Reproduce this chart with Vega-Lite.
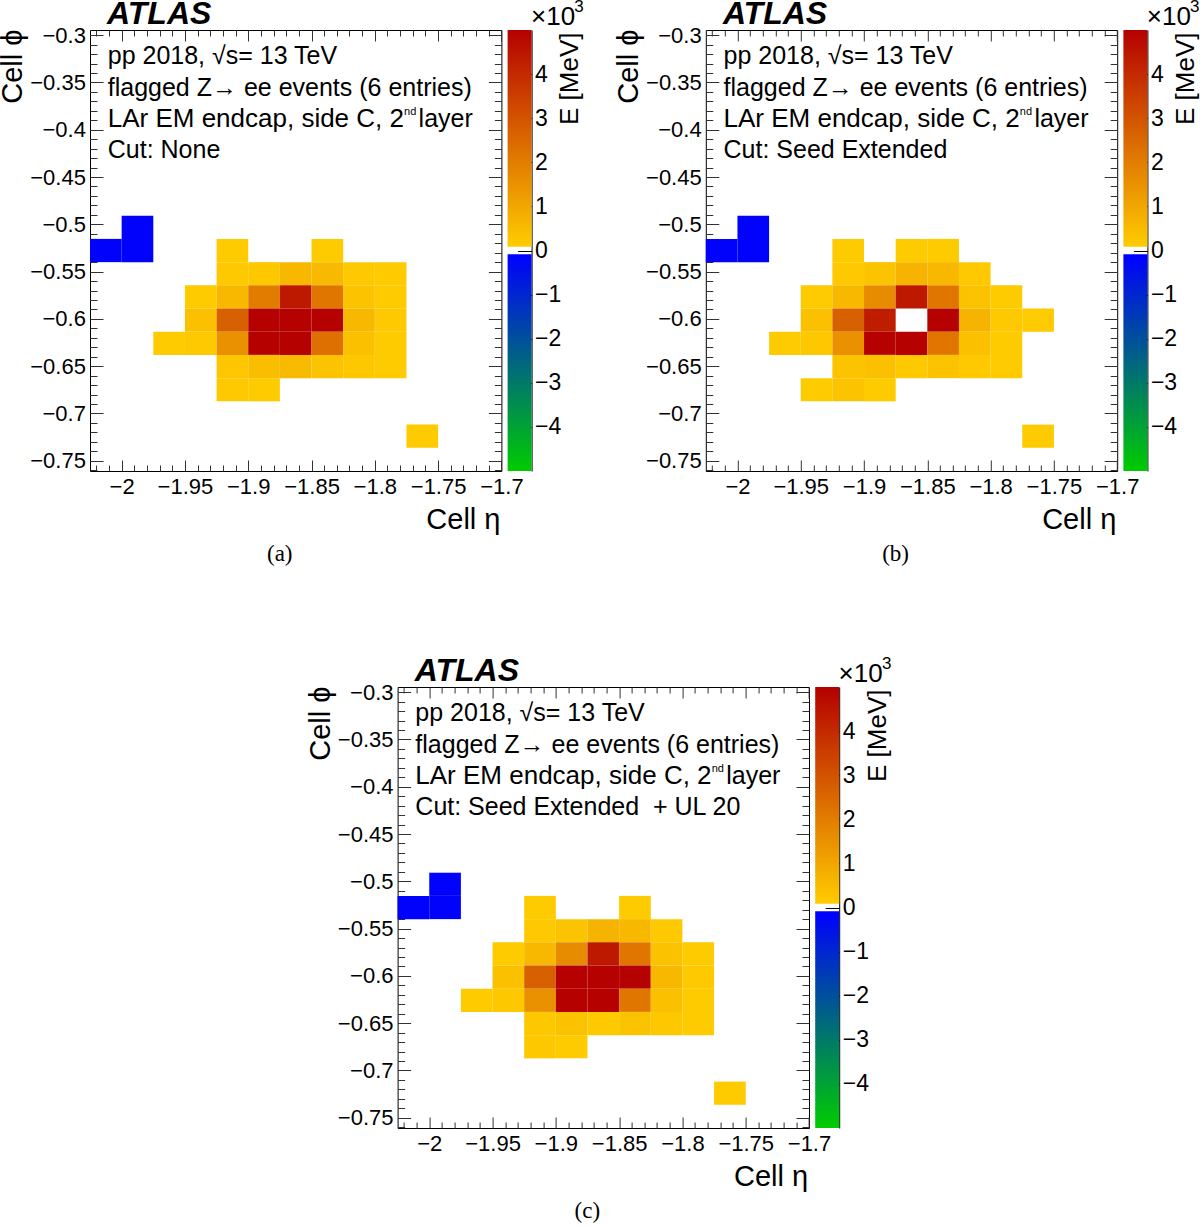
{
"$schema": "https://vega.github.io/schema/vega-lite/v6.json",
"background": "white",
"padding": {"left": -2, "top": -3, "right": 0, "bottom": 0},
"config": {
 "view": {"stroke": "black", "strokeWidth": 1},
 "axis": {"domain": false, "grid": false, "tickColor": "#333333", "tickWidth": 1, "labelFont": "Liberation Sans", "labelFontSize": 22, "labelColor": "black", "titleFont": "Liberation Sans", "titleFontWeight": "normal", "titleColor": "black", "labelFlush": false, "labelOverlap": false, "zindex": 2}
},
"datasets": {
 "cellsA": [
  {"eta0":-2.025,"eta1":-2,"phi0":-0.5154,"phi1":-0.54,"E":-60},
  {"eta0":-2,"eta1":-1.975,"phi0":-0.4909,"phi1":-0.5154,"E":-60},
  {"eta0":-2,"eta1":-1.975,"phi0":-0.5154,"phi1":-0.54,"E":-60},
  {"eta0":-1.925,"eta1":-1.9,"phi0":-0.5154,"phi1":-0.54,"E":60},
  {"eta0":-1.85,"eta1":-1.825,"phi0":-0.5154,"phi1":-0.54,"E":60},
  {"eta0":-1.925,"eta1":-1.9,"phi0":-0.54,"phi1":-0.5645,"E":80},
  {"eta0":-1.9,"eta1":-1.875,"phi0":-0.54,"phi1":-0.5645,"E":100},
  {"eta0":-1.875,"eta1":-1.85,"phi0":-0.54,"phi1":-0.5645,"E":480},
  {"eta0":-1.85,"eta1":-1.825,"phi0":-0.54,"phi1":-0.5645,"E":450},
  {"eta0":-1.825,"eta1":-1.8,"phi0":-0.54,"phi1":-0.5645,"E":80},
  {"eta0":-1.8,"eta1":-1.775,"phi0":-0.54,"phi1":-0.5645,"E":60},
  {"eta0":-1.95,"eta1":-1.925,"phi0":-0.5645,"phi1":-0.589,"E":60},
  {"eta0":-1.925,"eta1":-1.9,"phi0":-0.5645,"phi1":-0.589,"E":480},
  {"eta0":-1.9,"eta1":-1.875,"phi0":-0.5645,"phi1":-0.589,"E":1950},
  {"eta0":-1.875,"eta1":-1.85,"phi0":-0.5645,"phi1":-0.589,"E":4400},
  {"eta0":-1.85,"eta1":-1.825,"phi0":-0.5645,"phi1":-0.589,"E":2100},
  {"eta0":-1.825,"eta1":-1.8,"phi0":-0.5645,"phi1":-0.589,"E":220},
  {"eta0":-1.8,"eta1":-1.775,"phi0":-0.5645,"phi1":-0.589,"E":60},
  {"eta0":-1.95,"eta1":-1.925,"phi0":-0.589,"phi1":-0.6136,"E":300},
  {"eta0":-1.925,"eta1":-1.9,"phi0":-0.589,"phi1":-0.6136,"E":2650},
  {"eta0":-1.9,"eta1":-1.875,"phi0":-0.589,"phi1":-0.6136,"E":4950},
  {"eta0":-1.875,"eta1":-1.85,"phi0":-0.589,"phi1":-0.6136,"E":4950},
  {"eta0":-1.85,"eta1":-1.825,"phi0":-0.589,"phi1":-0.6136,"E":4950},
  {"eta0":-1.825,"eta1":-1.8,"phi0":-0.589,"phi1":-0.6136,"E":480},
  {"eta0":-1.8,"eta1":-1.775,"phi0":-0.589,"phi1":-0.6136,"E":80},
  {"eta0":-1.975,"eta1":-1.95,"phi0":-0.6136,"phi1":-0.6381,"E":60},
  {"eta0":-1.95,"eta1":-1.925,"phi0":-0.6136,"phi1":-0.6381,"E":80},
  {"eta0":-1.925,"eta1":-1.9,"phi0":-0.6136,"phi1":-0.6381,"E":1450},
  {"eta0":-1.9,"eta1":-1.875,"phi0":-0.6136,"phi1":-0.6381,"E":4950},
  {"eta0":-1.875,"eta1":-1.85,"phi0":-0.6136,"phi1":-0.6381,"E":4950},
  {"eta0":-1.85,"eta1":-1.825,"phi0":-0.6136,"phi1":-0.6381,"E":2250},
  {"eta0":-1.825,"eta1":-1.8,"phi0":-0.6136,"phi1":-0.6381,"E":300},
  {"eta0":-1.8,"eta1":-1.775,"phi0":-0.6136,"phi1":-0.6381,"E":60},
  {"eta0":-1.925,"eta1":-1.9,"phi0":-0.6381,"phi1":-0.6627,"E":150},
  {"eta0":-1.9,"eta1":-1.875,"phi0":-0.6381,"phi1":-0.6627,"E":350},
  {"eta0":-1.875,"eta1":-1.85,"phi0":-0.6381,"phi1":-0.6627,"E":450},
  {"eta0":-1.85,"eta1":-1.825,"phi0":-0.6381,"phi1":-0.6627,"E":220},
  {"eta0":-1.825,"eta1":-1.8,"phi0":-0.6381,"phi1":-0.6627,"E":100},
  {"eta0":-1.8,"eta1":-1.775,"phi0":-0.6381,"phi1":-0.6627,"E":60},
  {"eta0":-1.925,"eta1":-1.9,"phi0":-0.6627,"phi1":-0.6872,"E":80},
  {"eta0":-1.9,"eta1":-1.875,"phi0":-0.6627,"phi1":-0.6872,"E":60},
  {"eta0":-1.775,"eta1":-1.75,"phi0":-0.7118,"phi1":-0.7363,"E":60}
 ],
 "cellsB": [
  {"eta0":-2.025,"eta1":-2,"phi0":-0.5154,"phi1":-0.54,"E":-60},
  {"eta0":-2,"eta1":-1.975,"phi0":-0.4909,"phi1":-0.5154,"E":-60},
  {"eta0":-2,"eta1":-1.975,"phi0":-0.5154,"phi1":-0.54,"E":-60},
  {"eta0":-1.925,"eta1":-1.9,"phi0":-0.5154,"phi1":-0.54,"E":60},
  {"eta0":-1.875,"eta1":-1.85,"phi0":-0.5154,"phi1":-0.54,"E":60},
  {"eta0":-1.85,"eta1":-1.825,"phi0":-0.5154,"phi1":-0.54,"E":60},
  {"eta0":-1.925,"eta1":-1.9,"phi0":-0.54,"phi1":-0.5645,"E":80},
  {"eta0":-1.9,"eta1":-1.875,"phi0":-0.54,"phi1":-0.5645,"E":200},
  {"eta0":-1.875,"eta1":-1.85,"phi0":-0.54,"phi1":-0.5645,"E":590},
  {"eta0":-1.85,"eta1":-1.825,"phi0":-0.54,"phi1":-0.5645,"E":480},
  {"eta0":-1.825,"eta1":-1.8,"phi0":-0.54,"phi1":-0.5645,"E":80},
  {"eta0":-1.95,"eta1":-1.925,"phi0":-0.5645,"phi1":-0.589,"E":60},
  {"eta0":-1.925,"eta1":-1.9,"phi0":-0.5645,"phi1":-0.589,"E":480},
  {"eta0":-1.9,"eta1":-1.875,"phi0":-0.5645,"phi1":-0.589,"E":1600},
  {"eta0":-1.875,"eta1":-1.85,"phi0":-0.5645,"phi1":-0.589,"E":4400},
  {"eta0":-1.85,"eta1":-1.825,"phi0":-0.5645,"phi1":-0.589,"E":2100},
  {"eta0":-1.825,"eta1":-1.8,"phi0":-0.5645,"phi1":-0.589,"E":250},
  {"eta0":-1.8,"eta1":-1.775,"phi0":-0.5645,"phi1":-0.589,"E":60},
  {"eta0":-1.95,"eta1":-1.925,"phi0":-0.589,"phi1":-0.6136,"E":300},
  {"eta0":-1.925,"eta1":-1.9,"phi0":-0.589,"phi1":-0.6136,"E":2650},
  {"eta0":-1.9,"eta1":-1.875,"phi0":-0.589,"phi1":-0.6136,"E":4300},
  {"eta0":-1.85,"eta1":-1.825,"phi0":-0.589,"phi1":-0.6136,"E":4950},
  {"eta0":-1.825,"eta1":-1.8,"phi0":-0.589,"phi1":-0.6136,"E":590},
  {"eta0":-1.8,"eta1":-1.775,"phi0":-0.589,"phi1":-0.6136,"E":80},
  {"eta0":-1.775,"eta1":-1.75,"phi0":-0.589,"phi1":-0.6136,"E":60},
  {"eta0":-1.975,"eta1":-1.95,"phi0":-0.6136,"phi1":-0.6381,"E":60},
  {"eta0":-1.95,"eta1":-1.925,"phi0":-0.6136,"phi1":-0.6381,"E":100},
  {"eta0":-1.925,"eta1":-1.9,"phi0":-0.6136,"phi1":-0.6381,"E":1450},
  {"eta0":-1.9,"eta1":-1.875,"phi0":-0.6136,"phi1":-0.6381,"E":4950},
  {"eta0":-1.875,"eta1":-1.85,"phi0":-0.6136,"phi1":-0.6381,"E":4950},
  {"eta0":-1.85,"eta1":-1.825,"phi0":-0.6136,"phi1":-0.6381,"E":2100},
  {"eta0":-1.825,"eta1":-1.8,"phi0":-0.6136,"phi1":-0.6381,"E":300},
  {"eta0":-1.8,"eta1":-1.775,"phi0":-0.6136,"phi1":-0.6381,"E":60},
  {"eta0":-1.925,"eta1":-1.9,"phi0":-0.6381,"phi1":-0.6627,"E":200},
  {"eta0":-1.9,"eta1":-1.875,"phi0":-0.6381,"phi1":-0.6627,"E":300},
  {"eta0":-1.875,"eta1":-1.85,"phi0":-0.6381,"phi1":-0.6627,"E":80},
  {"eta0":-1.85,"eta1":-1.825,"phi0":-0.6381,"phi1":-0.6627,"E":250},
  {"eta0":-1.825,"eta1":-1.8,"phi0":-0.6381,"phi1":-0.6627,"E":80},
  {"eta0":-1.8,"eta1":-1.775,"phi0":-0.6381,"phi1":-0.6627,"E":60},
  {"eta0":-1.95,"eta1":-1.925,"phi0":-0.6627,"phi1":-0.6872,"E":60},
  {"eta0":-1.925,"eta1":-1.9,"phi0":-0.6627,"phi1":-0.6872,"E":200},
  {"eta0":-1.9,"eta1":-1.875,"phi0":-0.6627,"phi1":-0.6872,"E":60},
  {"eta0":-1.775,"eta1":-1.75,"phi0":-0.7118,"phi1":-0.7363,"E":60}
 ],
 "cellsC": [
  {"eta0":-2.025,"eta1":-2,"phi0":-0.5154,"phi1":-0.54,"E":-60},
  {"eta0":-2,"eta1":-1.975,"phi0":-0.4909,"phi1":-0.5154,"E":-60},
  {"eta0":-2,"eta1":-1.975,"phi0":-0.5154,"phi1":-0.54,"E":-60},
  {"eta0":-1.925,"eta1":-1.9,"phi0":-0.5154,"phi1":-0.54,"E":60},
  {"eta0":-1.85,"eta1":-1.825,"phi0":-0.5154,"phi1":-0.54,"E":60},
  {"eta0":-1.925,"eta1":-1.9,"phi0":-0.54,"phi1":-0.5645,"E":80},
  {"eta0":-1.9,"eta1":-1.875,"phi0":-0.54,"phi1":-0.5645,"E":200},
  {"eta0":-1.875,"eta1":-1.85,"phi0":-0.54,"phi1":-0.5645,"E":590},
  {"eta0":-1.85,"eta1":-1.825,"phi0":-0.54,"phi1":-0.5645,"E":480},
  {"eta0":-1.825,"eta1":-1.8,"phi0":-0.54,"phi1":-0.5645,"E":80},
  {"eta0":-1.95,"eta1":-1.925,"phi0":-0.5645,"phi1":-0.589,"E":60},
  {"eta0":-1.925,"eta1":-1.9,"phi0":-0.5645,"phi1":-0.589,"E":480},
  {"eta0":-1.9,"eta1":-1.875,"phi0":-0.5645,"phi1":-0.589,"E":1600},
  {"eta0":-1.875,"eta1":-1.85,"phi0":-0.5645,"phi1":-0.589,"E":4400},
  {"eta0":-1.85,"eta1":-1.825,"phi0":-0.5645,"phi1":-0.589,"E":2100},
  {"eta0":-1.825,"eta1":-1.8,"phi0":-0.5645,"phi1":-0.589,"E":250},
  {"eta0":-1.8,"eta1":-1.775,"phi0":-0.5645,"phi1":-0.589,"E":60},
  {"eta0":-1.95,"eta1":-1.925,"phi0":-0.589,"phi1":-0.6136,"E":300},
  {"eta0":-1.925,"eta1":-1.9,"phi0":-0.589,"phi1":-0.6136,"E":2650},
  {"eta0":-1.9,"eta1":-1.875,"phi0":-0.589,"phi1":-0.6136,"E":4950},
  {"eta0":-1.875,"eta1":-1.85,"phi0":-0.589,"phi1":-0.6136,"E":4950},
  {"eta0":-1.85,"eta1":-1.825,"phi0":-0.589,"phi1":-0.6136,"E":4950},
  {"eta0":-1.825,"eta1":-1.8,"phi0":-0.589,"phi1":-0.6136,"E":480},
  {"eta0":-1.8,"eta1":-1.775,"phi0":-0.589,"phi1":-0.6136,"E":80},
  {"eta0":-1.975,"eta1":-1.95,"phi0":-0.6136,"phi1":-0.6381,"E":60},
  {"eta0":-1.95,"eta1":-1.925,"phi0":-0.6136,"phi1":-0.6381,"E":100},
  {"eta0":-1.925,"eta1":-1.9,"phi0":-0.6136,"phi1":-0.6381,"E":1450},
  {"eta0":-1.9,"eta1":-1.875,"phi0":-0.6136,"phi1":-0.6381,"E":4950},
  {"eta0":-1.875,"eta1":-1.85,"phi0":-0.6136,"phi1":-0.6381,"E":4950},
  {"eta0":-1.85,"eta1":-1.825,"phi0":-0.6136,"phi1":-0.6381,"E":2100},
  {"eta0":-1.825,"eta1":-1.8,"phi0":-0.6136,"phi1":-0.6381,"E":300},
  {"eta0":-1.8,"eta1":-1.775,"phi0":-0.6136,"phi1":-0.6381,"E":60},
  {"eta0":-1.925,"eta1":-1.9,"phi0":-0.6381,"phi1":-0.6627,"E":100},
  {"eta0":-1.9,"eta1":-1.875,"phi0":-0.6381,"phi1":-0.6627,"E":250},
  {"eta0":-1.875,"eta1":-1.85,"phi0":-0.6381,"phi1":-0.6627,"E":80},
  {"eta0":-1.85,"eta1":-1.825,"phi0":-0.6381,"phi1":-0.6627,"E":250},
  {"eta0":-1.825,"eta1":-1.8,"phi0":-0.6381,"phi1":-0.6627,"E":100},
  {"eta0":-1.8,"eta1":-1.775,"phi0":-0.6381,"phi1":-0.6627,"E":60},
  {"eta0":-1.925,"eta1":-1.9,"phi0":-0.6627,"phi1":-0.6872,"E":100},
  {"eta0":-1.9,"eta1":-1.875,"phi0":-0.6627,"phi1":-0.6872,"E":60},
  {"eta0":-1.775,"eta1":-1.75,"phi0":-0.7118,"phi1":-0.7363,"E":60}
 ]
},
"bounds": "flush",
"spacing": 657,
"vconcat": [
 {
 "hconcat": [
 {
  "width": 411.4, "height": 441,
  "resolve": {"axis": {"x": "independent", "y": "independent"}},
  "layer": [
   {"data": {"name": "cellsA"}, "mark": {"type": "rect", "strokeWidth": 0},
    "encoding": {
     "x": {"field": "eta0", "type": "quantitative", "scale": {"domain": [-2.025, -1.7], "nice": false, "zero": false},
      "axis": {"orient": "bottom", "values": [-2,-1.95,-1.9,-1.85,-1.8,-1.75,-1.7], "format": "~g", "title": "Cell η", "tickSize": -11, "labelBaseline": "alphabetic", "labelPadding": 33, "titleFontSize": 29, "titleAlign": "right", "titleBaseline": "alphabetic", "titleAngle": 0, "titleX": 410, "titleY": 57}},
     "x2": {"field": "eta1"},
     "y": {"field": "phi0", "type": "quantitative", "scale": {"domain": [-0.760854, -0.294524], "nice": false, "zero": false},
      "axis": {"orient": "left", "values": [-0.3,-0.35,-0.4,-0.45,-0.5,-0.55,-0.6,-0.65,-0.7,-0.75], "format": "~g", "title": "Cell ϕ", "tickSize": -13, "labelAlign": "right", "labelBaseline": "middle", "labelPadding": 17.6, "titleFontSize": 29, "titleAngle": -90, "titleAlign": "right", "titleBaseline": "alphabetic", "titleX": -68.5, "titleY": -1}},
     "y2": {"field": "phi1"},
     "color": {"field": "E", "type": "quantitative", "scale": {"domain": [-5000, -1, 0, 5000], "range": ["#00CC00", "#0000FF", "#FFCC00", "#B40000"], "interpolate": "rgb", "clamp": true}, "legend": null}
    }},
   {"data": {"values": [{}]}, "mark": {"type": "text", "text": "ATLAS", "font": "Liberation Sans", "fontSize": 32, "fontWeight": "bold", "fontStyle": "italic", "align": "left", "baseline": "alphabetic", "color": "black"},
    "encoding": {
     "x": {"datum": -2.0115, "type": "quantitative", "scale": {"domain": [-2.025, -1.7], "nice": false, "zero": false}, "axis": {"orient": "top", "values": [-2,-1.95,-1.9,-1.85,-1.8,-1.75,-1.7], "labels": false, "title": null, "tickSize": -11}},
     "y": {"datum": -0.2887, "type": "quantitative", "scale": {"domain": [-0.760854, -0.294524], "nice": false, "zero": false}, "axis": {"orient": "right", "values": [-0.3,-0.35,-0.4,-0.45,-0.5,-0.55,-0.6,-0.65,-0.7,-0.75], "labels": false, "title": null, "tickSize": -13}}
    }},
   {"data": {"values": [{}]}, "mark": {"type": "text", "text": "pp 2018, √s= 13 TeV", "font": "Liberation Sans", "fontSize": 25, "align": "left", "baseline": "alphabetic", "color": "black"},
    "encoding": {
     "x": {"datum": -2.011, "type": "quantitative", "scale": {"domain": [-2.025, -1.7], "nice": false, "zero": false}, "axis": {"orient": "bottom", "values": [-2.02,-2.01,-1.99,-1.98,-1.97,-1.96,-1.94,-1.93,-1.92,-1.91,-1.89,-1.88,-1.87,-1.86,-1.84,-1.83,-1.82,-1.81,-1.79,-1.78,-1.77,-1.76,-1.74,-1.73,-1.72,-1.71], "labels": false, "title": null, "tickSize": -6}},
     "y": {"datum": -0.331, "type": "quantitative", "scale": {"domain": [-0.760854, -0.294524], "nice": false, "zero": false}, "axis": {"orient": "left", "values": [-0.31,-0.32,-0.33,-0.34,-0.36,-0.37,-0.38,-0.39,-0.41,-0.42,-0.43,-0.44,-0.46,-0.47,-0.48,-0.49,-0.51,-0.52,-0.53,-0.54,-0.56,-0.57,-0.58,-0.59,-0.61,-0.62,-0.63,-0.64,-0.66,-0.67,-0.68,-0.69,-0.71,-0.72,-0.73,-0.74,-0.76], "labels": false, "title": null, "tickSize": -7}}
    }},
   {"data": {"values": [{}]}, "mark": {"type": "text", "text": "flagged Z→ ee events (6 entries)", "font": "Liberation Sans", "fontSize": 25, "align": "left", "baseline": "alphabetic", "color": "black"},
    "encoding": {
     "x": {"datum": -2.011, "type": "quantitative", "scale": {"domain": [-2.025, -1.7], "nice": false, "zero": false}, "axis": {"orient": "top", "values": [-2.02,-2.01,-1.99,-1.98,-1.97,-1.96,-1.94,-1.93,-1.92,-1.91,-1.89,-1.88,-1.87,-1.86,-1.84,-1.83,-1.82,-1.81,-1.79,-1.78,-1.77,-1.76,-1.74,-1.73,-1.72,-1.71], "labels": false, "title": null, "tickSize": -6}},
     "y": {"datum": -0.3638, "type": "quantitative", "scale": {"domain": [-0.760854, -0.294524], "nice": false, "zero": false}, "axis": {"orient": "right", "values": [-0.31,-0.32,-0.33,-0.34,-0.36,-0.37,-0.38,-0.39,-0.41,-0.42,-0.43,-0.44,-0.46,-0.47,-0.48,-0.49,-0.51,-0.52,-0.53,-0.54,-0.56,-0.57,-0.58,-0.59,-0.61,-0.62,-0.63,-0.64,-0.66,-0.67,-0.68,-0.69,-0.71,-0.72,-0.73,-0.74,-0.76], "labels": false, "title": null, "tickSize": -7}}
    }},
   {"data": {"values": [{}]}, "mark": {"type": "text", "text": "LAr EM endcap, side C, 2", "font": "Liberation Sans", "fontSize": 26, "align": "left", "baseline": "alphabetic", "color": "black"},
    "encoding": {"x": {"datum": -2.011, "type": "quantitative", "scale": {"domain": [-2.025, -1.7], "nice": false, "zero": false}, "axis": null}, "y": {"datum": -0.3971, "type": "quantitative", "scale": {"domain": [-0.760854, -0.294524], "nice": false, "zero": false}, "axis": null}}},
   {"data": {"values": [{}]}, "mark": {"type": "text", "text": "nd", "font": "Liberation Sans", "fontSize": 11, "align": "left", "baseline": "alphabetic", "color": "black"},
    "encoding": {"x": {"datum": -1.7769, "type": "quantitative", "scale": {"domain": [-2.025, -1.7], "nice": false, "zero": false}, "axis": null}, "y": {"datum": -0.3844, "type": "quantitative", "scale": {"domain": [-0.760854, -0.294524], "nice": false, "zero": false}, "axis": null}}},
   {"data": {"values": [{}]}, "mark": {"type": "text", "text": "layer", "font": "Liberation Sans", "fontSize": 25, "align": "left", "baseline": "alphabetic", "color": "black"},
    "encoding": {"x": {"datum": -1.7654, "type": "quantitative", "scale": {"domain": [-2.025, -1.7], "nice": false, "zero": false}, "axis": null}, "y": {"datum": -0.3971, "type": "quantitative", "scale": {"domain": [-0.760854, -0.294524], "nice": false, "zero": false}, "axis": null}}},
   {"data": {"values": [{}]}, "mark": {"type": "text", "text": "Cut: None", "font": "Liberation Sans", "fontSize": 25, "align": "left", "baseline": "alphabetic", "color": "black"},
    "encoding": {"x": {"datum": -2.011, "type": "quantitative", "scale": {"domain": [-2.025, -1.7], "nice": false, "zero": false}, "axis": null}, "y": {"datum": -0.4299, "type": "quantitative", "scale": {"domain": [-0.760854, -0.294524], "nice": false, "zero": false}, "axis": null}}},
   {"data": {"values": [{}]}, "mark": {"type": "text", "text": "(a)", "font": "Liberation Serif", "fontSize": 23, "align": "center", "baseline": "alphabetic", "color": "black"},
    "encoding": {"x": {"datum": -1.8751, "type": "quantitative", "scale": {"domain": [-2.025, -1.7], "nice": false, "zero": false}, "axis": null}, "y": {"datum": -0.8555, "type": "quantitative", "scale": {"domain": [-0.760854, -0.294524], "nice": false, "zero": false}, "axis": null}}}
  ]
 },
 {
  "width": 24, "height": 441, "view": {"stroke": null},
  "resolve": {"axis": {"x": "independent", "y": "independent"}},
  "layer": [
   {"data": {"values": [{"lo": 85, "hi": 5000}]}, "mark": {"type": "rect", "strokeWidth": 0, "fill": {"gradient": "linear", "x1": 0, "y1": 1, "x2": 0, "y2": 0, "stops": [{"offset": 0, "color": "#FFCC00"}, {"offset": 1, "color": "#B40000"}]}},
    "encoding": {"x": {"datum": 0, "type": "quantitative", "scale": {"domain": [0, 1], "nice": false, "zero": false}, "axis": null}, "x2": {"datum": 1},
     "y": {"field": "hi", "type": "quantitative", "scale": {"domain": [-5000, 5000], "nice": false, "zero": false},
      "axis": {"orient": "right", "values": [-4000,-3000,-2000,-1000,0,1000,2000,3000,4000], "labelExpr": "format(datum.value/1000, 'd')", "title": "E [MeV]", "tickSize": -14, "tickColor": "black", "domain": true, "domainColor": "black", "domainWidth": 1, "labelPadding": 17, "labelAlign": "left", "labelBaseline": "middle", "labelFontSize": 23, "titleFontSize": 26, "titleAngle": -90, "titleAlign": "right", "titleBaseline": "alphabetic", "titleX": 46, "titleY": 2}},
     "y2": {"field": "lo"}}},
   {"data": {"values": [{"lo": -5000, "hi": -85}]}, "mark": {"type": "rect", "strokeWidth": 0, "fill": {"gradient": "linear", "x1": 0, "y1": 0, "x2": 0, "y2": 1, "stops": [{"offset": 0, "color": "#0000FF"}, {"offset": 1, "color": "#00CC00"}]}},
    "encoding": {"x": {"datum": 0, "type": "quantitative", "scale": {"domain": [0, 1], "nice": false, "zero": false}, "axis": null}, "x2": {"datum": 1},
     "y": {"field": "hi", "type": "quantitative", "scale": {"domain": [-5000, 5000], "nice": false, "zero": false}, "axis": null}, "y2": {"field": "lo"}}},
   {"data": {"values": [{}]}, "mark": {"type": "text", "text": "×10", "font": "Liberation Sans", "fontSize": 26, "align": "left", "baseline": "alphabetic", "color": "black"},
    "encoding": {"x": {"datum": 0.975, "type": "quantitative", "scale": {"domain": [0, 1], "nice": false, "zero": false}, "axis": null}, "y": {"datum": 5113, "type": "quantitative", "scale": {"domain": [-5000, 5000], "nice": false, "zero": false}, "axis": null}}},
   {"data": {"values": [{}]}, "mark": {"type": "text", "text": "3", "font": "Liberation Sans", "fontSize": 17, "align": "left", "baseline": "alphabetic", "color": "black"},
    "encoding": {"x": {"datum": 2.78, "type": "quantitative", "scale": {"domain": [0, 1], "nice": false, "zero": false}, "axis": null}, "y": {"datum": 5408, "type": "quantitative", "scale": {"domain": [-5000, 5000], "nice": false, "zero": false}, "axis": null}}}
  ]
 },
 {"width": 162.8, "height": 441, "view": {"stroke": null}, "data": {"values": []}, "mark": "point"},
 {
  "width": 411.4, "height": 441,
  "resolve": {"axis": {"x": "independent", "y": "independent"}},
  "layer": [
   {"data": {"name": "cellsB"}, "mark": {"type": "rect", "strokeWidth": 0},
    "encoding": {
     "x": {"field": "eta0", "type": "quantitative", "scale": {"domain": [-2.025, -1.7], "nice": false, "zero": false},
      "axis": {"orient": "bottom", "values": [-2,-1.95,-1.9,-1.85,-1.8,-1.75,-1.7], "format": "~g", "title": "Cell η", "tickSize": -11, "labelBaseline": "alphabetic", "labelPadding": 33, "titleFontSize": 29, "titleAlign": "right", "titleBaseline": "alphabetic", "titleAngle": 0, "titleX": 410, "titleY": 57}},
     "x2": {"field": "eta1"},
     "y": {"field": "phi0", "type": "quantitative", "scale": {"domain": [-0.760854, -0.294524], "nice": false, "zero": false},
      "axis": {"orient": "left", "values": [-0.3,-0.35,-0.4,-0.45,-0.5,-0.55,-0.6,-0.65,-0.7,-0.75], "format": "~g", "title": "Cell ϕ", "tickSize": -13, "labelAlign": "right", "labelBaseline": "middle", "labelPadding": 17.6, "titleFontSize": 29, "titleAngle": -90, "titleAlign": "right", "titleBaseline": "alphabetic", "titleX": -68.5, "titleY": -1}},
     "y2": {"field": "phi1"},
     "color": {"field": "E", "type": "quantitative", "scale": {"domain": [-5000, -1, 0, 5000], "range": ["#00CC00", "#0000FF", "#FFCC00", "#B40000"], "interpolate": "rgb", "clamp": true}, "legend": null}
    }},
   {"data": {"values": [{}]}, "mark": {"type": "text", "text": "ATLAS", "font": "Liberation Sans", "fontSize": 32, "fontWeight": "bold", "fontStyle": "italic", "align": "left", "baseline": "alphabetic", "color": "black"},
    "encoding": {
     "x": {"datum": -2.0115, "type": "quantitative", "scale": {"domain": [-2.025, -1.7], "nice": false, "zero": false}, "axis": {"orient": "top", "values": [-2,-1.95,-1.9,-1.85,-1.8,-1.75,-1.7], "labels": false, "title": null, "tickSize": -11}},
     "y": {"datum": -0.2887, "type": "quantitative", "scale": {"domain": [-0.760854, -0.294524], "nice": false, "zero": false}, "axis": {"orient": "right", "values": [-0.3,-0.35,-0.4,-0.45,-0.5,-0.55,-0.6,-0.65,-0.7,-0.75], "labels": false, "title": null, "tickSize": -13}}
    }},
   {"data": {"values": [{}]}, "mark": {"type": "text", "text": "pp 2018, √s= 13 TeV", "font": "Liberation Sans", "fontSize": 25, "align": "left", "baseline": "alphabetic", "color": "black"},
    "encoding": {
     "x": {"datum": -2.011, "type": "quantitative", "scale": {"domain": [-2.025, -1.7], "nice": false, "zero": false}, "axis": {"orient": "bottom", "values": [-2.02,-2.01,-1.99,-1.98,-1.97,-1.96,-1.94,-1.93,-1.92,-1.91,-1.89,-1.88,-1.87,-1.86,-1.84,-1.83,-1.82,-1.81,-1.79,-1.78,-1.77,-1.76,-1.74,-1.73,-1.72,-1.71], "labels": false, "title": null, "tickSize": -6}},
     "y": {"datum": -0.331, "type": "quantitative", "scale": {"domain": [-0.760854, -0.294524], "nice": false, "zero": false}, "axis": {"orient": "left", "values": [-0.31,-0.32,-0.33,-0.34,-0.36,-0.37,-0.38,-0.39,-0.41,-0.42,-0.43,-0.44,-0.46,-0.47,-0.48,-0.49,-0.51,-0.52,-0.53,-0.54,-0.56,-0.57,-0.58,-0.59,-0.61,-0.62,-0.63,-0.64,-0.66,-0.67,-0.68,-0.69,-0.71,-0.72,-0.73,-0.74,-0.76], "labels": false, "title": null, "tickSize": -7}}
    }},
   {"data": {"values": [{}]}, "mark": {"type": "text", "text": "flagged Z→ ee events (6 entries)", "font": "Liberation Sans", "fontSize": 25, "align": "left", "baseline": "alphabetic", "color": "black"},
    "encoding": {
     "x": {"datum": -2.011, "type": "quantitative", "scale": {"domain": [-2.025, -1.7], "nice": false, "zero": false}, "axis": {"orient": "top", "values": [-2.02,-2.01,-1.99,-1.98,-1.97,-1.96,-1.94,-1.93,-1.92,-1.91,-1.89,-1.88,-1.87,-1.86,-1.84,-1.83,-1.82,-1.81,-1.79,-1.78,-1.77,-1.76,-1.74,-1.73,-1.72,-1.71], "labels": false, "title": null, "tickSize": -6}},
     "y": {"datum": -0.3638, "type": "quantitative", "scale": {"domain": [-0.760854, -0.294524], "nice": false, "zero": false}, "axis": {"orient": "right", "values": [-0.31,-0.32,-0.33,-0.34,-0.36,-0.37,-0.38,-0.39,-0.41,-0.42,-0.43,-0.44,-0.46,-0.47,-0.48,-0.49,-0.51,-0.52,-0.53,-0.54,-0.56,-0.57,-0.58,-0.59,-0.61,-0.62,-0.63,-0.64,-0.66,-0.67,-0.68,-0.69,-0.71,-0.72,-0.73,-0.74,-0.76], "labels": false, "title": null, "tickSize": -7}}
    }},
   {"data": {"values": [{}]}, "mark": {"type": "text", "text": "LAr EM endcap, side C, 2", "font": "Liberation Sans", "fontSize": 26, "align": "left", "baseline": "alphabetic", "color": "black"},
    "encoding": {"x": {"datum": -2.011, "type": "quantitative", "scale": {"domain": [-2.025, -1.7], "nice": false, "zero": false}, "axis": null}, "y": {"datum": -0.3971, "type": "quantitative", "scale": {"domain": [-0.760854, -0.294524], "nice": false, "zero": false}, "axis": null}}},
   {"data": {"values": [{}]}, "mark": {"type": "text", "text": "nd", "font": "Liberation Sans", "fontSize": 11, "align": "left", "baseline": "alphabetic", "color": "black"},
    "encoding": {"x": {"datum": -1.7769, "type": "quantitative", "scale": {"domain": [-2.025, -1.7], "nice": false, "zero": false}, "axis": null}, "y": {"datum": -0.3844, "type": "quantitative", "scale": {"domain": [-0.760854, -0.294524], "nice": false, "zero": false}, "axis": null}}},
   {"data": {"values": [{}]}, "mark": {"type": "text", "text": "layer", "font": "Liberation Sans", "fontSize": 25, "align": "left", "baseline": "alphabetic", "color": "black"},
    "encoding": {"x": {"datum": -1.7654, "type": "quantitative", "scale": {"domain": [-2.025, -1.7], "nice": false, "zero": false}, "axis": null}, "y": {"datum": -0.3971, "type": "quantitative", "scale": {"domain": [-0.760854, -0.294524], "nice": false, "zero": false}, "axis": null}}},
   {"data": {"values": [{}]}, "mark": {"type": "text", "text": "Cut: Seed Extended", "font": "Liberation Sans", "fontSize": 25, "align": "left", "baseline": "alphabetic", "color": "black"},
    "encoding": {"x": {"datum": -2.011, "type": "quantitative", "scale": {"domain": [-2.025, -1.7], "nice": false, "zero": false}, "axis": null}, "y": {"datum": -0.4299, "type": "quantitative", "scale": {"domain": [-0.760854, -0.294524], "nice": false, "zero": false}, "axis": null}}},
   {"data": {"values": [{}]}, "mark": {"type": "text", "text": "(b)", "font": "Liberation Serif", "fontSize": 23, "align": "center", "baseline": "alphabetic", "color": "black"},
    "encoding": {"x": {"datum": -1.8751, "type": "quantitative", "scale": {"domain": [-2.025, -1.7], "nice": false, "zero": false}, "axis": null}, "y": {"datum": -0.8555, "type": "quantitative", "scale": {"domain": [-0.760854, -0.294524], "nice": false, "zero": false}, "axis": null}}}
  ]
 },
 {
  "width": 24, "height": 441, "view": {"stroke": null},
  "resolve": {"axis": {"x": "independent", "y": "independent"}},
  "layer": [
   {"data": {"values": [{"lo": 85, "hi": 5000}]}, "mark": {"type": "rect", "strokeWidth": 0, "fill": {"gradient": "linear", "x1": 0, "y1": 1, "x2": 0, "y2": 0, "stops": [{"offset": 0, "color": "#FFCC00"}, {"offset": 1, "color": "#B40000"}]}},
    "encoding": {"x": {"datum": 0, "type": "quantitative", "scale": {"domain": [0, 1], "nice": false, "zero": false}, "axis": null}, "x2": {"datum": 1},
     "y": {"field": "hi", "type": "quantitative", "scale": {"domain": [-5000, 5000], "nice": false, "zero": false},
      "axis": {"orient": "right", "values": [-4000,-3000,-2000,-1000,0,1000,2000,3000,4000], "labelExpr": "format(datum.value/1000, 'd')", "title": "E [MeV]", "tickSize": -14, "tickColor": "black", "domain": true, "domainColor": "black", "domainWidth": 1, "labelPadding": 17, "labelAlign": "left", "labelBaseline": "middle", "labelFontSize": 23, "titleFontSize": 26, "titleAngle": -90, "titleAlign": "right", "titleBaseline": "alphabetic", "titleX": 46, "titleY": 2}},
     "y2": {"field": "lo"}}},
   {"data": {"values": [{"lo": -5000, "hi": -85}]}, "mark": {"type": "rect", "strokeWidth": 0, "fill": {"gradient": "linear", "x1": 0, "y1": 0, "x2": 0, "y2": 1, "stops": [{"offset": 0, "color": "#0000FF"}, {"offset": 1, "color": "#00CC00"}]}},
    "encoding": {"x": {"datum": 0, "type": "quantitative", "scale": {"domain": [0, 1], "nice": false, "zero": false}, "axis": null}, "x2": {"datum": 1},
     "y": {"field": "hi", "type": "quantitative", "scale": {"domain": [-5000, 5000], "nice": false, "zero": false}, "axis": null}, "y2": {"field": "lo"}}},
   {"data": {"values": [{}]}, "mark": {"type": "text", "text": "×10", "font": "Liberation Sans", "fontSize": 26, "align": "left", "baseline": "alphabetic", "color": "black"},
    "encoding": {"x": {"datum": 0.975, "type": "quantitative", "scale": {"domain": [0, 1], "nice": false, "zero": false}, "axis": null}, "y": {"datum": 5113, "type": "quantitative", "scale": {"domain": [-5000, 5000], "nice": false, "zero": false}, "axis": null}}},
   {"data": {"values": [{}]}, "mark": {"type": "text", "text": "3", "font": "Liberation Sans", "fontSize": 17, "align": "left", "baseline": "alphabetic", "color": "black"},
    "encoding": {"x": {"datum": 2.78, "type": "quantitative", "scale": {"domain": [0, 1], "nice": false, "zero": false}, "axis": null}, "y": {"datum": 5408, "type": "quantitative", "scale": {"domain": [-5000, 5000], "nice": false, "zero": false}, "axis": null}}}
  ]
 }
 ],
 "spacing": 5.6, "bounds": "flush"
 },
 {
 "hconcat": [
 {"width": 302, "height": 441, "view": {"stroke": null}, "data": {"values": []}, "mark": "point"},
 {
  "width": 411.4, "height": 441,
  "resolve": {"axis": {"x": "independent", "y": "independent"}},
  "layer": [
   {"data": {"name": "cellsC"}, "mark": {"type": "rect", "strokeWidth": 0},
    "encoding": {
     "x": {"field": "eta0", "type": "quantitative", "scale": {"domain": [-2.025, -1.7], "nice": false, "zero": false},
      "axis": {"orient": "bottom", "values": [-2,-1.95,-1.9,-1.85,-1.8,-1.75,-1.7], "format": "~g", "title": "Cell η", "tickSize": -11, "labelBaseline": "alphabetic", "labelPadding": 33, "titleFontSize": 29, "titleAlign": "right", "titleBaseline": "alphabetic", "titleAngle": 0, "titleX": 410, "titleY": 57}},
     "x2": {"field": "eta1"},
     "y": {"field": "phi0", "type": "quantitative", "scale": {"domain": [-0.760854, -0.294524], "nice": false, "zero": false},
      "axis": {"orient": "left", "values": [-0.3,-0.35,-0.4,-0.45,-0.5,-0.55,-0.6,-0.65,-0.7,-0.75], "format": "~g", "title": "Cell ϕ", "tickSize": -13, "labelAlign": "right", "labelBaseline": "middle", "labelPadding": 17.6, "titleFontSize": 29, "titleAngle": -90, "titleAlign": "right", "titleBaseline": "alphabetic", "titleX": -68.5, "titleY": -1}},
     "y2": {"field": "phi1"},
     "color": {"field": "E", "type": "quantitative", "scale": {"domain": [-5000, -1, 0, 5000], "range": ["#00CC00", "#0000FF", "#FFCC00", "#B40000"], "interpolate": "rgb", "clamp": true}, "legend": null}
    }},
   {"data": {"values": [{}]}, "mark": {"type": "text", "text": "ATLAS", "font": "Liberation Sans", "fontSize": 32, "fontWeight": "bold", "fontStyle": "italic", "align": "left", "baseline": "alphabetic", "color": "black"},
    "encoding": {
     "x": {"datum": -2.0115, "type": "quantitative", "scale": {"domain": [-2.025, -1.7], "nice": false, "zero": false}, "axis": {"orient": "top", "values": [-2,-1.95,-1.9,-1.85,-1.8,-1.75,-1.7], "labels": false, "title": null, "tickSize": -11}},
     "y": {"datum": -0.2887, "type": "quantitative", "scale": {"domain": [-0.760854, -0.294524], "nice": false, "zero": false}, "axis": {"orient": "right", "values": [-0.3,-0.35,-0.4,-0.45,-0.5,-0.55,-0.6,-0.65,-0.7,-0.75], "labels": false, "title": null, "tickSize": -13}}
    }},
   {"data": {"values": [{}]}, "mark": {"type": "text", "text": "pp 2018, √s= 13 TeV", "font": "Liberation Sans", "fontSize": 25, "align": "left", "baseline": "alphabetic", "color": "black"},
    "encoding": {
     "x": {"datum": -2.011, "type": "quantitative", "scale": {"domain": [-2.025, -1.7], "nice": false, "zero": false}, "axis": {"orient": "bottom", "values": [-2.02,-2.01,-1.99,-1.98,-1.97,-1.96,-1.94,-1.93,-1.92,-1.91,-1.89,-1.88,-1.87,-1.86,-1.84,-1.83,-1.82,-1.81,-1.79,-1.78,-1.77,-1.76,-1.74,-1.73,-1.72,-1.71], "labels": false, "title": null, "tickSize": -6}},
     "y": {"datum": -0.331, "type": "quantitative", "scale": {"domain": [-0.760854, -0.294524], "nice": false, "zero": false}, "axis": {"orient": "left", "values": [-0.31,-0.32,-0.33,-0.34,-0.36,-0.37,-0.38,-0.39,-0.41,-0.42,-0.43,-0.44,-0.46,-0.47,-0.48,-0.49,-0.51,-0.52,-0.53,-0.54,-0.56,-0.57,-0.58,-0.59,-0.61,-0.62,-0.63,-0.64,-0.66,-0.67,-0.68,-0.69,-0.71,-0.72,-0.73,-0.74,-0.76], "labels": false, "title": null, "tickSize": -7}}
    }},
   {"data": {"values": [{}]}, "mark": {"type": "text", "text": "flagged Z→ ee events (6 entries)", "font": "Liberation Sans", "fontSize": 25, "align": "left", "baseline": "alphabetic", "color": "black"},
    "encoding": {
     "x": {"datum": -2.011, "type": "quantitative", "scale": {"domain": [-2.025, -1.7], "nice": false, "zero": false}, "axis": {"orient": "top", "values": [-2.02,-2.01,-1.99,-1.98,-1.97,-1.96,-1.94,-1.93,-1.92,-1.91,-1.89,-1.88,-1.87,-1.86,-1.84,-1.83,-1.82,-1.81,-1.79,-1.78,-1.77,-1.76,-1.74,-1.73,-1.72,-1.71], "labels": false, "title": null, "tickSize": -6}},
     "y": {"datum": -0.3638, "type": "quantitative", "scale": {"domain": [-0.760854, -0.294524], "nice": false, "zero": false}, "axis": {"orient": "right", "values": [-0.31,-0.32,-0.33,-0.34,-0.36,-0.37,-0.38,-0.39,-0.41,-0.42,-0.43,-0.44,-0.46,-0.47,-0.48,-0.49,-0.51,-0.52,-0.53,-0.54,-0.56,-0.57,-0.58,-0.59,-0.61,-0.62,-0.63,-0.64,-0.66,-0.67,-0.68,-0.69,-0.71,-0.72,-0.73,-0.74,-0.76], "labels": false, "title": null, "tickSize": -7}}
    }},
   {"data": {"values": [{}]}, "mark": {"type": "text", "text": "LAr EM endcap, side C, 2", "font": "Liberation Sans", "fontSize": 26, "align": "left", "baseline": "alphabetic", "color": "black"},
    "encoding": {"x": {"datum": -2.011, "type": "quantitative", "scale": {"domain": [-2.025, -1.7], "nice": false, "zero": false}, "axis": null}, "y": {"datum": -0.3971, "type": "quantitative", "scale": {"domain": [-0.760854, -0.294524], "nice": false, "zero": false}, "axis": null}}},
   {"data": {"values": [{}]}, "mark": {"type": "text", "text": "nd", "font": "Liberation Sans", "fontSize": 11, "align": "left", "baseline": "alphabetic", "color": "black"},
    "encoding": {"x": {"datum": -1.7769, "type": "quantitative", "scale": {"domain": [-2.025, -1.7], "nice": false, "zero": false}, "axis": null}, "y": {"datum": -0.3844, "type": "quantitative", "scale": {"domain": [-0.760854, -0.294524], "nice": false, "zero": false}, "axis": null}}},
   {"data": {"values": [{}]}, "mark": {"type": "text", "text": "layer", "font": "Liberation Sans", "fontSize": 25, "align": "left", "baseline": "alphabetic", "color": "black"},
    "encoding": {"x": {"datum": -1.7654, "type": "quantitative", "scale": {"domain": [-2.025, -1.7], "nice": false, "zero": false}, "axis": null}, "y": {"datum": -0.3971, "type": "quantitative", "scale": {"domain": [-0.760854, -0.294524], "nice": false, "zero": false}, "axis": null}}},
   {"data": {"values": [{}]}, "mark": {"type": "text", "text": "Cut: Seed Extended\u00a0 + UL 20", "font": "Liberation Sans", "fontSize": 25, "align": "left", "baseline": "alphabetic", "color": "black"},
    "encoding": {"x": {"datum": -2.011, "type": "quantitative", "scale": {"domain": [-2.025, -1.7], "nice": false, "zero": false}, "axis": null}, "y": {"datum": -0.4299, "type": "quantitative", "scale": {"domain": [-0.760854, -0.294524], "nice": false, "zero": false}, "axis": null}}},
   {"data": {"values": [{}]}, "mark": {"type": "text", "text": "(c)", "font": "Liberation Serif", "fontSize": 23, "align": "center", "baseline": "alphabetic", "color": "black"},
    "encoding": {"x": {"datum": -1.8751, "type": "quantitative", "scale": {"domain": [-2.025, -1.7], "nice": false, "zero": false}, "axis": null}, "y": {"datum": -0.8555, "type": "quantitative", "scale": {"domain": [-0.760854, -0.294524], "nice": false, "zero": false}, "axis": null}}}
  ]
 },
 {
  "width": 24, "height": 441, "view": {"stroke": null},
  "resolve": {"axis": {"x": "independent", "y": "independent"}},
  "layer": [
   {"data": {"values": [{"lo": 85, "hi": 5000}]}, "mark": {"type": "rect", "strokeWidth": 0, "fill": {"gradient": "linear", "x1": 0, "y1": 1, "x2": 0, "y2": 0, "stops": [{"offset": 0, "color": "#FFCC00"}, {"offset": 1, "color": "#B40000"}]}},
    "encoding": {"x": {"datum": 0, "type": "quantitative", "scale": {"domain": [0, 1], "nice": false, "zero": false}, "axis": null}, "x2": {"datum": 1},
     "y": {"field": "hi", "type": "quantitative", "scale": {"domain": [-5000, 5000], "nice": false, "zero": false},
      "axis": {"orient": "right", "values": [-4000,-3000,-2000,-1000,0,1000,2000,3000,4000], "labelExpr": "format(datum.value/1000, 'd')", "title": "E [MeV]", "tickSize": -14, "tickColor": "black", "domain": true, "domainColor": "black", "domainWidth": 1, "labelPadding": 17, "labelAlign": "left", "labelBaseline": "middle", "labelFontSize": 23, "titleFontSize": 26, "titleAngle": -90, "titleAlign": "right", "titleBaseline": "alphabetic", "titleX": 46, "titleY": 2}},
     "y2": {"field": "lo"}}},
   {"data": {"values": [{"lo": -5000, "hi": -85}]}, "mark": {"type": "rect", "strokeWidth": 0, "fill": {"gradient": "linear", "x1": 0, "y1": 0, "x2": 0, "y2": 1, "stops": [{"offset": 0, "color": "#0000FF"}, {"offset": 1, "color": "#00CC00"}]}},
    "encoding": {"x": {"datum": 0, "type": "quantitative", "scale": {"domain": [0, 1], "nice": false, "zero": false}, "axis": null}, "x2": {"datum": 1},
     "y": {"field": "hi", "type": "quantitative", "scale": {"domain": [-5000, 5000], "nice": false, "zero": false}, "axis": null}, "y2": {"field": "lo"}}},
   {"data": {"values": [{}]}, "mark": {"type": "text", "text": "×10", "font": "Liberation Sans", "fontSize": 26, "align": "left", "baseline": "alphabetic", "color": "black"},
    "encoding": {"x": {"datum": 0.975, "type": "quantitative", "scale": {"domain": [0, 1], "nice": false, "zero": false}, "axis": null}, "y": {"datum": 5113, "type": "quantitative", "scale": {"domain": [-5000, 5000], "nice": false, "zero": false}, "axis": null}}},
   {"data": {"values": [{}]}, "mark": {"type": "text", "text": "3", "font": "Liberation Sans", "fontSize": 17, "align": "left", "baseline": "alphabetic", "color": "black"},
    "encoding": {"x": {"datum": 2.78, "type": "quantitative", "scale": {"domain": [0, 1], "nice": false, "zero": false}, "axis": null}, "y": {"datum": 5408, "type": "quantitative", "scale": {"domain": [-5000, 5000], "nice": false, "zero": false}, "axis": null}}}
  ]
 }
 ],
 "spacing": 5.6, "bounds": "flush"
 }
]
}
